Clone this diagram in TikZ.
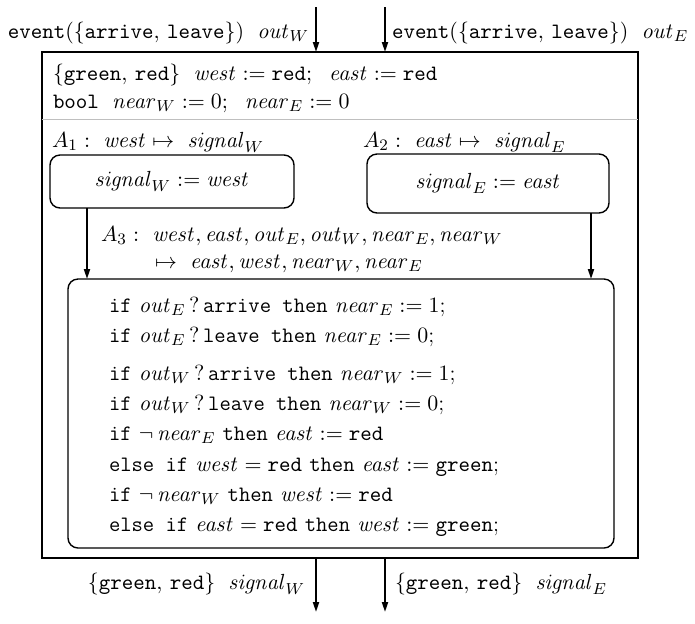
\documentclass[tikz,border=0pt]{standalone}
\usetikzlibrary{arrows.meta}
\newcommand{\mi}[1]{\mathit{#1}}
\newcommand{\mt}[1]{\mathtt{#1}}
\begin{document}
\begin{tikzpicture}[x=0.5pt,y=-0.5pt,
  every node/.style={font=\fontsize{11}{13}\selectfont, inner sep=0pt, outer sep=0pt},
  lbl/.style={anchor=base west},
  lblr/.style={anchor=base east},
  frame/.style={draw, line width=1pt, minimum width=298pt, minimum height=253pt},
  rbox/.style={draw, line width=0.7pt, rounded corners=5pt},
  arr/.style={line width=0.9pt, -{Triangle[length=5pt,width=3pt]}},
]
\useasboundingbox (0,0) rectangle (695,623);

% outer frame
\node[frame] (outer) at (340,305) {};
\coordinate (sep) at (0,119);
\draw[black!25, line width=0.5pt] (outer.west |- sep) -- (outer.east |- sep);

% input / output connectors
\coordinate (inW) at (316,7);
\coordinate (inE) at (385,7);
\coordinate (outW) at (316,612);
\coordinate (outE) at (385,612);
\draw[arr] (inW) -- (inW |- outer.north);
\draw[arr] (inE) -- (inE |- outer.north);
\draw[arr] (outW |- outer.south) -- (outW);
\draw[arr] (outE |- outer.south) -- (outE);

\node[lblr] (tinW) at (309,38) {$\mt{event}(\{\mt{arrive},\,\mt{leave}\})~\;\mi{out}_W$};
\node[lbl] (tinE) at (392,38) {$\mt{event}(\{\mt{arrive},\,\mt{leave}\})~\;\mi{out}_E$};
\node[lblr] (toutW) at (305,589) {$\{\mt{green},\,\mt{red}\}~\;\mi{signal}_W$};
\node[lbl] (toutE) at (395,589) {$\{\mt{green},\,\mt{red}\}~\;\mi{signal}_E$};

% declarations
\node[lbl] (decl1) at (53,80) {$\{\mt{green},\,\mt{red}\}~\;\mi{west}:=\mt{red};~\;\mi{east}:=\mt{red}$};
\node[lbl] (decl2) at (53,108) {$\mt{bool}~\;\mi{near}_W:=0;~\;\mi{near}_E:=0$};

% A1, A2
\node[lbl] (la1) at (52,147) {$A_1:~\mi{west}\mapsto~\mi{signal}_W$};
\node[lbl] (la2) at (363,147) {$A_2:~\mi{east}\mapsto~\mi{signal}_E$};
\node[rbox, minimum width=122pt, minimum height=26.5pt] (a1) at (172,181.5) {$\mi{signal}_W:=\mi{west}$};
\node[rbox, minimum width=121pt, minimum height=29.5pt] (a2) at (488,183.5) {$\mi{signal}_E:=\mi{east}$};

% A3
\node[lbl] (la3a) at (101,241) {$A_3:~\mi{west},\mi{east},\mi{out}_E,\mi{out}_W,\mi{near}_E,\mi{near}_W$};
\node[lbl] (la3b) at (155,268) {$\mapsto~\mi{east},\mi{west},\mi{near}_W,\mi{near}_E$};
\node[rbox, minimum width=273pt, minimum height=134.5pt] (a3) at (341,413.5) {};

\coordinate (c1) at (87,0);
\coordinate (c2) at (591,0);
\draw[arr] (c1 |- a1.south) -- (c1 |- a3.north);
\draw[arr] (c2 |- a2.south) -- (c2 |- a3.north);

% body of A3
\node[lbl] (l1) at (109,312) {\texttt{if} $\mi{out}_E\,?$\,\texttt{arrive then} $\mi{near}_E:=1$;};
\node[lbl] (l2) at (109,342) {\texttt{if} $\mi{out}_E\,?$\,\texttt{leave then} $\mi{near}_E:=0$;};
\node[lbl] (l3) at (109,380) {\texttt{if} $\mi{out}_W\,?$\,\texttt{arrive then} $\mi{near}_W:=1$;};
\node[lbl] (l4) at (109,410) {\texttt{if} $\mi{out}_W\,?$\,\texttt{leave then} $\mi{near}_W:=0$;};
\node[lbl] (l5) at (109,440) {\texttt{if} $\neg\,\mi{near}_E$ \texttt{then} $\mi{east}:=\mt{red}$};
\node[lbl] (l6) at (109,471) {\texttt{else if} $\mi{west}=\mt{red}$ \texttt{then} $\mi{east}:=\mt{green}$;};
\node[lbl] (l7) at (109,501) {\texttt{if} $\neg\,\mi{near}_W$ \texttt{then} $\mi{west}:=\mt{red}$};
\node[lbl] (l8) at (109,531) {\texttt{else if} $\mi{east}=\mt{red}$ \texttt{then} $\mi{west}:=\mt{green}$;};
\end{tikzpicture}
\end{document}
